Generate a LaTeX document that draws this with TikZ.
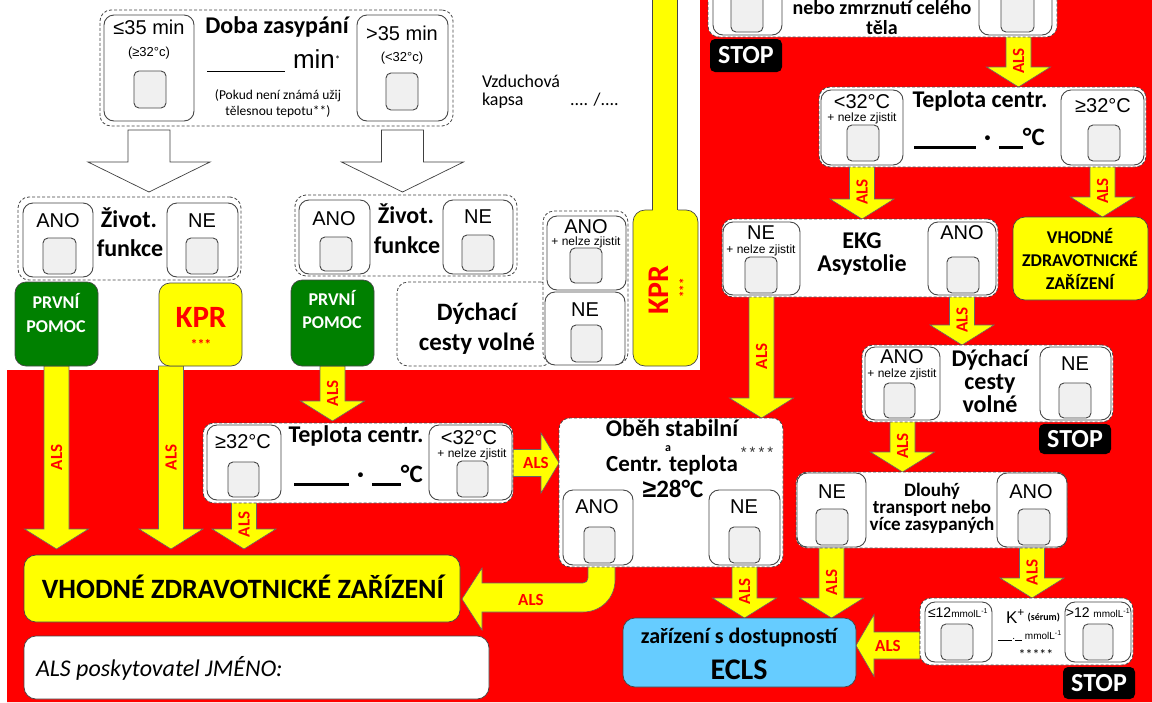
\documentclass[tikz,border=0pt]{standalone}
\usepackage{fontspec}
\setmainfont{Carlito}
\newfontfamily\ar{Liberation Sans}
\usetikzlibrary{calc}
\newcommand\fs[1]{\fontsize{#1}{#1}\selectfont}
\definecolor{rd}{RGB}{255,0,0}
\definecolor{yl}{RGB}{255,255,0}
\definecolor{gn}{RGB}{0,128,0}
\definecolor{bl}{RGB}{102,204,255}
\definecolor{bd}{RGB}{70,70,70}
\definecolor{sqf}{RGB}{240,240,240}
\pgfdeclarelayer{back}
\pgfdeclarelayer{bg}
\pgfsetlayers{back,bg,main}
\tikzset{
 grp/.style={draw=bd,dash pattern=on 3pt off 2pt,fill=white,rounded corners=11pt,line width=0.8pt},
 opt/.style={draw=bd,fill=white,rounded corners=10pt,line width=0.9pt},
 sq/.style={draw=bd,fill=sqf,rounded corners=5pt,line width=0.9pt},
 ybox/.style={draw=bd,fill=yl,rounded corners=11pt,line width=0.7pt},
 gbox/.style={draw=bd,fill=gn,rounded corners=11pt,line width=0.7pt},
 bbox/.style={draw=bd,fill=bl,rounded corners=12pt,line width=0.7pt},
 wbox/.style={draw=bd,fill=white,rounded corners=12pt,line width=0.7pt},
 stopbox/.style={fill=black,rounded corners=5pt,text=white,font={\bfseries\fs{26}}},
 yarr/.style={draw=black!60,fill=yl,line width=0.6pt},
 warr/.style={draw=black!75,fill=white,line width=0.7pt},
 alslbl/.style={text=rd,font={\bfseries\fs{17}}},
 ttl/.style={font={\bfseries\fs{24}}},
 opttxt/.style={font={\ar\fs{20}}},
 nz/.style={font={\ar\fs{12}}},
}
\newcommand\bx[6]{\node[#2,anchor=north west,minimum width={(#5-(#3))*1pt},minimum height={(#6-(#4))*1pt}] (#1) at (#3,#4) {};}
\newcommand\T[5][]{\node[anchor=base,#1] (#2) at (#3,#4) {#5};}
\newcommand\stopat[4]{\node[stopbox,anchor=north west,minimum width=72pt,minimum height=#4pt] (#1) at (#2,#3) {STOP};}
\newcommand\templine[2]{\rule[-3.5pt]{#1}{2.5pt}\hspace{8pt}·\hspace{8pt}\rule[-3.5pt]{#2}{2.5pt}{\fs{25}°C}}
\newcommand\alsdn[3]{%
\begin{pgfonlayer}{bg}
\draw[yarr] let \p1=#1,\p2=#2 in (\x1-12.5pt,\y1)--(\x1-12.5pt,\y2+20pt)--(\x1-32pt,\y2+20pt)--(\x1,\y2)--(\x1+32pt,\y2+20pt)--(\x1+12.5pt,\y2+20pt)--(\x1+12.5pt,\y1)--cycle;
\path let \p1=#1,\p2=#2 in node[alslbl,rotate=90] (#3) at (\x1,{(\y1+\y2)/2}) {ALS};
\end{pgfonlayer}}
\newcommand\alsright[3]{%
\begin{pgfonlayer}{bg}
\draw[yarr] let \p1=#1,\p2=#2 in (\x1,\y1+13.5pt)--(\x2-18pt,\y1+13.5pt)--(\x2-18pt,\y1+30pt)--(\x2,\y1)--(\x2-18pt,\y1-30pt)--(\x2-18pt,\y1-13.5pt)--(\x1,\y1-13.5pt)--cycle;
\path let \p1=#1,\p2=#2 in node[alslbl] (#3) at ({(\x1+\x2)/2},\y1) {ALS};
\end{pgfonlayer}}
\newcommand\alsleft[3]{%
\begin{pgfonlayer}{bg}
\draw[yarr] let \p1=#1,\p2=#2 in (\x1,\y1+13.5pt)--(\x2+18pt,\y1+13.5pt)--(\x2+18pt,\y1+31pt)--(\x2,\y1)--(\x2+18pt,\y1-31pt)--(\x2+18pt,\y1-13.5pt)--(\x1,\y1-13.5pt)--cycle;
\path let \p1=#1,\p2=#2 in node[alslbl] (#3) at ({(\x1+\x2)/2},\y1) {ALS};
\end{pgfonlayer}}
\newcommand\wdn[2]{%
\begin{pgfonlayer}{bg}
\draw[warr] let \p1=#1,\p2=#2 in (\x1-21pt,\y1)--(\x1-21pt,\y2+30pt)--(\x1-61pt,\y2+30pt)--(\x1,\y2)--(\x1+61pt,\y2+30pt)--(\x1+21pt,\y2+30pt)--(\x1+21pt,\y1)--cycle;
\end{pgfonlayer}}
\begin{document}
\begin{tikzpicture}[x=1pt,y=-1pt,every node/.style={inner sep=0pt,outer sep=0pt}]
\useasboundingbox (0,0) rectangle (1152,702);
\begin{pgfonlayer}{back}
\fill[white] (0,0) rectangle (1152,702);
\fill[rd] (7,370)--(700,370)--(700,0)--(1152,0)--(1152,702)--(7,702)--cycle;
\end{pgfonlayer}

% ---- Doba zasypani
\bx{doba}{grp}{100}{10}{453}{126}
\bx{le35}{opt}{104}{15}{194}{121}
\bx{gt35}{opt}{357}{15}{448}{121}
\bx{sqa}{sq}{134}{71}{166}{108}
\bx{sqb}{sq}{386}{73}{418}{110}
\T[font={\ar\fs{20}}]{tle35}{149}{34}{≤35 min}
\T[font={\ar\fs{13}}]{tle35b}{149}{56}{(≥32°c)}
\T[font={\ar\fs{20}}]{tgt35}{402}{40}{>35 min}
\T[font={\ar\fs{13}}]{tgt35b}{402}{61}{(<32°c)}
\T[ttl]{tdoba}{277}{33}{Doba zasypání}
\T[anchor=base west]{tmin}{207}{68}{\rule[-4pt]{78pt}{1.5pt}\hspace{8pt}{\ar\fs{26}min}\raisebox{5pt}{\fs{11}*}}
\T[font={\fs{13.5}}]{tpok1}{278}{99}{(Pokud není známá užij}
\T[font={\fs{13.5}}]{tpok2}{278}{115}{tělesnou tepotu**)}
\T[anchor=base west,font={\fs{18}}]{tvz1}{482}{87}{Vzduchová}
\T[anchor=base west,font={\fs{18}}]{tvz2}{482}{105}{kapsa}
\T[anchor=base west,font={\fs{18}}]{tvz3}{570}{105}{.... /....}

% ---- Zivot. funkce 1
\bx{zf1}{grp}{18}{197}{241}{280}
\bx{ano1}{opt}{23}{203}{93}{277}
\bx{ne1}{opt}{167}{203}{238}{277}
\bx{sq1}{sq}{43}{238}{76}{274}
\bx{sq2}{sq}{186}{238}{218}{274}
\T[opttxt]{tano1}{58}{227}{ANO}
\T[opttxt]{tne1}{202}{227}{NE}
\T[ttl]{tziv1}{129}{227}{Život.}
\T[ttl]{tfun1}{130}{256}{funkce}

% ---- Zivot. funkce 2
\bx{zf2}{grp}{295}{195}{517}{276}
\bx{ano2}{opt}{299}{200}{370}{274}
\bx{ne2}{opt}{443}{200}{513}{274}
\bx{sq3}{sq}{320}{237}{352}{271}
\bx{sq4}{sq}{462}{235}{494}{271}
\T[opttxt]{tano2}{334}{225}{ANO}
\T[opttxt]{tne2}{478}{223}{NE}
\T[ttl]{tziv2}{406}{223}{Život.}
\T[ttl]{tfun2}{407}{253}{funkce}

% ---- green / yellow boxes
\bx{pp1}{gbox}{15}{282}{98}{366}
\T[font={\bfseries\fs{18}},text=white]{tpp1a}{56}{308}{PRVNÍ}
\T[font={\bfseries\fs{18}},text=white]{tpp1b}{56}{332}{POMOC}
\bx{kpr1}{ybox}{159}{283}{242}{366}
\T[font={\bfseries\fs{31}},text=rd]{tkpr1}{201}{327}{KPR}
\T[font={\bfseries\fs{14}},text=rd]{tkpr1s}{201}{349}{***}
\bx{pp2}{gbox}{291}{280}{374}{366}
\T[font={\bfseries\fs{18}},text=white]{tpp2a}{332}{305}{PRVNÍ}
\T[font={\bfseries\fs{18}},text=white]{tpp2b}{332}{328}{POMOC}

% ---- Dychaci (left)
\bx{dyl}{grp}{397}{282}{552}{366}
\bx{dyc}{grp}{543}{211}{628}{364}
\bx{dyano}{opt}{547}{216}{626}{290}
\bx{dyne}{opt}{545}{292}{625}{365}
\bx{sq5}{sq}{570}{248}{602}{283}
\bx{sq6}{sq}{571}{325}{602}{362}
\T[opttxt]{tdyano}{586}{233}{ANO}
\T[nz]{tdynz}{586}{245}{+ nelze zjistit}
\T[opttxt]{tdyne}{585}{316}{NE}
\T[ttl,font={\bfseries\fs{25}}]{tdy1}{477}{320}{Dýchací}
\T[ttl,font={\bfseries\fs{25}}]{tdy2}{477}{350}{cesty volné}

% ---- KPR tall bar
\bx{kpr2}{ybox,rounded corners=12pt}{633}{210}{698}{366}
\coordinate (kprtop) at (665,-5);
\fill[yl] let \p1=(kprtop),\p2=(kpr2.north) in (\x1-12.5pt,\y1) rectangle (\x1+12.5pt,\y2-6pt);
\draw[bd,line width=0.7pt] let \p1=(kprtop),\p2=(kpr2.north) in (\x1-12.5pt,\y1)--(\x1-12.5pt,\y2) (\x1+12.5pt,\y1)--(\x1+12.5pt,\y2);
\node[rotate=90,text=rd,font={\bfseries\fs{30}}] (tkpr2) at (659,290) {KPR};
\node[rotate=90,text=rd,font={\bfseries\fs{13}}] (tkpr2s) at (684,288) {***};

% ---- top right group
\bx{topg}{grp}{708}{-20}{1057}{37}
\bx{topl}{opt}{713}{-20}{782}{35}
\bx{topr}{opt}{979}{-20}{1052}{35}
\bx{sq7}{sq}{731}{-20}{763}{32}
\bx{sq8}{sq}{1001}{-20}{1034}{32}
\T[font={\bfseries\fs{20}}]{ttop1}{882}{14}{nebo zmrznutí celého}
\T[font={\bfseries\fs{20}}]{ttop2}{882}{34}{těla}
\stopat{stop1}{710}{39}{33}

% ---- Teplota centr. (top)
\bx{tg}{grp}{819}{87}{1146}{167}
\bx{tglt}{opt}{821}{90}{903}{165}
\bx{tgge}{opt}{1061}{90}{1144}{165}
\bx{sq9}{sq}{847}{125}{879}{161}
\bx{sq10}{sq}{1088}{125}{1120}{161}
\T[opttxt]{ttglt}{862}{108}{<32°C}
\T[nz]{ttgnz}{862}{121}{+ nelze zjistit}
\T[opttxt]{ttgge}{1103}{112}{≥32°C}
\T[ttl]{ttg}{980}{107}{Teplota centr.}
\T[anchor=base west,font={\bfseries\fs{26}}]{ttgv}{914}{145}{\templine{62pt}{24pt}}

\bx{vzs}{ybox,rounded corners=12pt}{1013}{217}{1148}{300}
\T[font={\bfseries\fs{18}}]{tvzs1}{1080}{243}{VHODNÉ}
\T[font={\bfseries\fs{18}}]{tvzs2}{1080}{266}{ZDRAVOTNICKÉ}
\T[font={\bfseries\fs{18}}]{tvzs3}{1080}{289}{ZAŘÍZENÍ}

% ---- EKG
\bx{ekg}{grp}{722}{219}{998}{297}
\bx{ekgne}{opt}{723}{222}{800}{295}
\bx{ekgano}{opt}{928}{222}{996}{295}
\bx{sq11}{sq}{745}{257}{777}{293}
\bx{sq12}{sq}{947}{257}{979}{293}
\T[opttxt]{tekgne}{761}{239}{NE}
\T[nz]{tekgnz}{761}{253}{+ nelze zjistit}
\T[opttxt]{tekgano}{962}{239}{ANO}
\T[ttl]{tekg1}{862}{248}{EKG}
\T[ttl]{tekg2}{862}{271}{Asystolie}

% ---- Dychaci (right)
\bx{dyr}{grp}{862}{345}{1113}{422}
\bx{dyrano}{opt}{865}{347}{940}{420}
\bx{dyrne}{opt}{1040}{347}{1111}{420}
\bx{sq13}{sq}{884}{383}{915}{418}
\bx{sq14}{sq}{1059}{383}{1091}{418}
\T[opttxt]{tdyrano}{902}{363}{ANO}
\T[nz]{tdyrnz}{902}{377}{+ nelze zjistit}
\T[opttxt]{tdyrne}{1075}{370}{NE}
\T[ttl]{tdyr1}{990}{366}{Dýchací}
\T[ttl]{tdyr2}{990}{389}{cesty}
\T[ttl]{tdyr3}{990}{412}{volné}
\stopat{stop2}{1039}{424}{30}

% ---- Dlouhy transport
\bx{dl}{grp}{796}{472}{1067}{548}
\bx{dlne}{opt}{797}{473}{866}{547}
\bx{dlano}{opt}{997}{473}{1067}{547}
\bx{sq15}{sq}{816}{509}{848}{545}
\bx{sq16}{sq}{1018}{509}{1050}{545}
\T[opttxt]{tdlne}{832}{498}{NE}
\T[opttxt]{tdlano}{1031}{498}{ANO}
\T[font={\bfseries\fs{19}}]{tdl1}{932}{496}{Dlouhý}
\T[font={\bfseries\fs{19}}]{tdl2}{932}{513}{transport nebo}
\T[font={\bfseries\fs{19}}]{tdl3}{932}{530}{více zasypaných}

% ---- K+ group
\bx{kg}{grp}{920}{598}{1133}{665}
\bx{kgle}{opt}{925}{602}{992}{662}
\bx{kggt}{opt}{1065}{602}{1131}{662}
\bx{sq17}{sq}{941}{624}{973}{660}
\bx{sq18}{sq}{1083}{624}{1113}{660}
\T[font={\ar\fs{14}}]{tkle}{958}{617}{≤12{\fs{10}mmolL\textsuperscript{-1}}}
\T[font={\ar\fs{14}}]{tkgt}{1098}{617}{>12 {\fs{10}mmolL\textsuperscript{-1}}}
\T[font={\ar\fs{17}}]{tk}{1033}{623}{K\textsuperscript{+}\,\raisebox{3pt}{\rmfamily\bfseries\fs{10}(sérum)}}
\T[font={\ar\fs{10}}]{tkv}{1030}{639}{\rule[-2pt]{14pt}{0.8pt}.\rule[-2pt]{7pt}{0.8pt}\ mmolL\textsuperscript{-1}}
\node[font={\fs{14}}] (tk5) at (1036,655) {*****};
\stopat{stop3}{1063}{667}{32}

% ---- ECLS
\bx{ecls}{bbox}{623}{618}{856}{687}
\T[font={\bfseries\fs{22}}]{tecls1}{739}{643}{zařízení s dostupností}
\T[font={\bfseries\fs{30}}]{tecls2}{739}{679}{ECLS}

% ---- Obeh stabilni
\bx{ob}{grp}{559}{418}{783}{567}
\bx{oano}{opt}{563}{490}{633}{565}
\bx{one}{opt}{709}{490}{780}{565}
\bx{sq19}{sq}{584}{527}{615}{563}
\bx{sq20}{sq}{729}{527}{760}{563}
\T[font={\bfseries\fs{24}}]{tob1}{672}{436}{Oběh stabilní}
\T[font={\bfseries\fs{12}}]{tob2}{668}{451}{a}
\T[font={\bfseries\fs{23}}]{tob3}{672}{471}{Centr. teplota}
\T[font={\bfseries\fs{25}}]{tob4}{673}{497}{{\ar≥}28°C}
\node[font={\ar\fs{15}},text=black!80] (tob5) at (757,452) {*\hspace{3pt}*\hspace{3pt}*\hspace{3pt}*};
\T[opttxt]{tobano}{597}{513}{ANO}
\T[opttxt]{tobne}{744}{513}{NE}

% ---- Teplota centr. (bottom)
\bx{tb}{grp}{203}{423}{513}{503}
\bx{tbge}{opt}{207}{425}{281}{500}
\bx{tblt}{opt}{429}{425}{512}{500}
\bx{sq21}{sq}{228}{462}{259}{497}
\bx{sq22}{sq}{457}{461}{488}{497}
\T[opttxt]{ttbge}{243}{448}{≥32°C}
\T[opttxt]{ttblt}{469}{444}{<32°C}
\T[nz]{ttbnz}{472}{457}{+ nelze zjistit}
\T[ttl]{ttb}{356}{442}{Teplota centr.}
\T[anchor=base west,font={\bfseries\fs{26}}]{ttbv}{294}{482}{\templine{55pt}{29pt}}

% ---- bottom boxes
\bx{vzb}{ybox,rounded corners=12pt}{24}{555}{460}{622}
\T[font={\bfseries\fs{28}}]{tvzb}{243}{598}{VHODNÉ ZDRAVOTNICKÉ ZAŘÍZENÍ}
\bx{nm}{wbox}{24}{636}{489}{699}
\T[anchor=base west,font={\itshape\fs{24}}]{tnm}{36}{676}{ALS poskytovatel JMÉNO:}

% ---- arrows
\wdn{([yshift=-9pt]le35.south)}{([yshift=5pt]zf1.north)}
\wdn{([yshift=-9pt]gt35.south)}{([yshift=3pt]zf2.north)}
\alsdn{([xshift=3pt]topr.south)}{(tg.north)}{l1}
\alsdn{(tglt.south)}{(ekg.north)}{l2}
\alsdn{(tgge.south)}{(vzs.north)}{l3}
\alsdn{(ekgne.south)}{(ob.north)}{l4}
\alsdn{(ekgano.south)}{(dyr.north)}{l5}
\alsdn{(dyrano.south)}{(dl.north)}{l6}
\alsdn{(dlne.south)}{(ecls.north)}{l7}
\alsdn{(dlano.south)}{(kg.north)}{l8}
\alsleft{([yshift=-14pt]kg.west)}{(ecls.east)}{l9}
\alsdn{(one.south)}{(ecls.north)}{l10}
\alsdn{(pp2.south)}{([yshift=2pt]tb.north)}{l11}
\alsdn{(tbge.south)}{([yshift=6pt]vzb.north)}{l12}
\alsright{(tb.east)}{(ob.west)}{l13}
\alsdn{(pp1.south)}{([yshift=6pt]vzb.north)}{l14}
\alsdn{([xshift=-29.5pt]kpr1.south)}{([yshift=6pt]vzb.north)}{l15}
\begin{pgfonlayer}{bg}
\draw[yarr] let \p1=(oano.south),\p2=(vzb.east) in (\x1+17pt,\y1)--(\x1+17pt,\y1-15pt) .. controls (\x1+17pt,\y1-33pt) and (\x1+3pt,\y1-47pt) .. (\x1-15pt,\y1-47pt)--(\x2+22pt,\y1-47pt)--(\x2+22pt,\y1-65pt)--(\x2+2pt,\y1-34pt)--(\x2+22pt,\y1-3pt)--(\x2+22pt,\y1-18pt)--(\x1-15pt,\y1-18pt) .. controls (\x1-12pt,\y1-18pt) and (\x1-10pt,\y1-16pt) .. (\x1-10pt,\y1-13pt)--(\x1-10pt,\y1)--cycle;
\path let \p1=(oano.south),\p2=(vzb.east) in node[alslbl] (l16) at (\x2+71pt,\y1-35pt) {ALS};
\end{pgfonlayer}
\end{tikzpicture}
\end{document}
